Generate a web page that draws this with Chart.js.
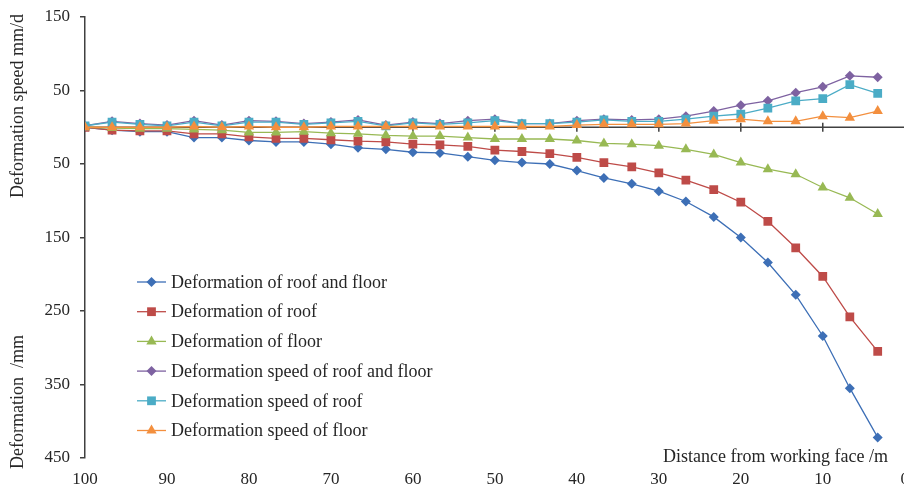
<!DOCTYPE html>
<html lang="en">
<head>
  <meta charset="UTF-8" />
  <title>Deformation vs distance from working face</title>
  <script src="https://cdn.jsdelivr.net/npm/chart.js"></script>
  <style>
    html, body { margin: 0; padding: 0; background: #fff; overflow: hidden; }
    #wrap { position: relative; width: 912px; height: 490px; }
  </style>
</head>
<body>
  <div id="wrap"><canvas id="grafico"></canvas></div>

  <script>
    // distance from working face (m)
    const distance = [100, 96.7, 93.3, 90, 86.7, 83.3, 80, 76.7, 73.3, 70, 66.7, 63.3, 60, 56.7, 53.3,
                      50, 46.7, 43.3, 40, 36.7, 33.3, 30, 26.7, 23.3, 20, 16.7, 13.3, 10, 6.7, 3.3];

    // deformation (mm), drawn below the zero line
    const defRoofFloor = [0, 4, 6, 6, 14, 14, 18, 20, 20, 23, 28, 30, 34, 35, 40,
                          45, 48, 50, 59, 69, 77, 87, 101, 122, 150, 184, 228, 284, 355, 422];
    const defRoof = [0, 4, 5, 5, 9, 9, 13, 15, 15, 17, 19, 20, 23, 24, 26,
                     31, 33, 36, 41, 48, 54, 62, 72, 85, 102, 128, 164, 203, 258, 305];
    const defFloor = [0, 1, 2, 2, 3, 4, 7, 7, 6, 8, 9, 11, 12, 12, 14,
                      16, 16, 16, 18, 22, 23, 25, 30, 37, 48, 57, 64, 82, 96, 118];

    // deformation speed (mm/d), drawn above the zero line
    const spdRoofFloor = [2, 8, 5, 3, 9, 3, 9, 8, 5, 7, 10, 3, 7, 5, 9,
                          11, 5, 5, 9, 11, 10, 11, 15, 22, 30, 36, 47, 55, 70, 68];
    const spdRoof = [2, 7, 4, 2, 7, 2, 7, 7, 4, 6, 8, 2, 6, 4, 6,
                     9, 5, 5, 7, 10, 8, 8, 11, 15, 18, 26, 36, 39, 58, 46];
    const spdFloor = [0, 0, 0, 0, 1, 0, 1, 0, 0, 1, 1, 1, 1, 1, 1,
                      1, 1, 1, 3, 4, 4, 4, 5, 9, 11, 8, 8, 15, 13, 22];

    const xTicks = [100, 90, 80, 70, 60, 50, 40, 30, 20, 10, 0];
    const yTicks = [-150, -50, 50, 150, 250, 350, 450];

    const seriesNames = ['Deformation of roof and floor', 'Deformation of roof', 'Deformation of floor',
                         'Deformation speed of roof and floor', 'Deformation speed of roof', 'Deformation speed of floor'];
    const cores = ['#3D6FB6', '#BE4B48', '#98B954', '#7E62A1', '#4BACC6', '#F38F3E'];
    const estilos = ['rectRot', 'rect', 'triangle', 'rectRot', 'rect', 'triangle'];
    const raios = { rectRot: 5, rect: 6.2, triangle: 6 };

    const serif = '"Liberation Serif", "Times New Roman", serif';
    const txt = '#262626';
    const axisColor = '#404040';

    const valores = [defRoofFloor, defRoof, defFloor,
                     spdRoofFloor.map(v => -v), spdRoof.map(v => -v), spdFloor.map(v => -v)];

    const datasets = valores.map((arr, i) => ({
      label: seriesNames[i],
      data: arr.map((v, k) => ({ x: distance[k], y: v })),
      borderColor: cores[i],
      backgroundColor: cores[i],
      borderWidth: 1.3,
      pointStyle: estilos[i],
      pointRadius: raios[estilos[i]],
      pointBorderWidth: 0,
      tension: 0
    })).reverse(); // speed series underneath, as in the original

    // x axis crossing at zero, with cross tick marks
    const zeroAxis = {
      id: 'zeroAxis',
      beforeDatasetsDraw(chart) {
        const { ctx, scales: { x, y } } = chart;
        const y0 = y.getPixelForValue(0);
        ctx.save();
        ctx.strokeStyle = axisColor;
        ctx.lineWidth = 1.5;
        ctx.beginPath();
        ctx.moveTo(x.left, y0);
        ctx.lineTo(x.right, y0);
        xTicks.forEach(t => {
          const px = x.getPixelForValue(t);
          ctx.moveTo(px, y0 - 4.5);
          ctx.lineTo(px, y0 + 4.5);
        });
        ctx.stroke();
        ctx.restore();
      }
    };

    // axis titles and legend inside the plot
    const anotacoes = {
      id: 'anotacoes',
      afterDraw(chart) {
        const { ctx } = chart;
        ctx.save();
        ctx.fillStyle = txt;
        ctx.font = '18px ' + serif;
        ctx.textBaseline = 'middle';

        ctx.save();
        ctx.translate(18, 106);
        ctx.rotate(-Math.PI / 2);
        ctx.textAlign = 'center';
        ctx.fillText('Deformation speed mm/d', 0, 0);
        ctx.restore();

        ctx.save();
        ctx.translate(18, 402);
        ctx.rotate(-Math.PI / 2);
        ctx.textAlign = 'center';
        ctx.fillText('Deformation  /mm', 0, 0);
        ctx.restore();

        ctx.textAlign = 'right';
        ctx.fillText('Distance from working face /m', 888, 457);

        // legend
        ctx.textAlign = 'left';
        seriesNames.forEach((nome, i) => {
          const yy = 282 + i * 29.7;
          ctx.strokeStyle = cores[i];
          ctx.lineWidth = 1.3;
          ctx.beginPath();
          ctx.moveTo(137, yy);
          ctx.lineTo(166, yy);
          ctx.stroke();
          ctx.fillStyle = cores[i];
          Chart.helpers.drawPoint(ctx, { pointStyle: estilos[i], radius: raios[estilos[i]], borderWidth: 0 }, 151.5, yy);
          ctx.fillStyle = txt;
          ctx.fillText(nome, 171, yy + 1);
        });
        ctx.restore();
      }
    };

    new Chart(document.getElementById('grafico'), {
      type: 'line',
      data: { datasets },
      options: {
        responsive: true,
        maintainAspectRatio: false,
        animation: false,
        layout: { padding: { left: 0, right: 4, top: 17, bottom: 0 } },
        plugins: { legend: { display: false }, tooltip: { enabled: false } },
        scales: {
          x: {
            type: 'linear',
            min: 0,
            max: 100,
            reverse: true,
            afterBuildTicks: s => { s.ticks = xTicks.map(v => ({ value: v })); },
            afterFit: s => { s.height = 32; },
            grid: { display: false },
            border: { display: false },
            ticks: { color: txt, font: { family: serif, size: 17 }, padding: 3, maxRotation: 0 }
          },
          y: {
            type: 'linear',
            min: -150,
            max: 450,
            reverse: true,
            afterBuildTicks: s => { s.ticks = yTicks.map(v => ({ value: v })); },
            afterFit: s => { s.width = 85; s.paddingTop = 0; s.paddingBottom = 0; },
            grid: { drawOnChartArea: false, drawTicks: true, tickLength: 5, color: axisColor, lineWidth: 1.5 },
            border: { display: true, color: axisColor, width: 1.5 },
            ticks: { color: txt, font: { family: serif, size: 17 }, padding: 10, callback: v => Math.abs(v) }
          }
        }
      },
      plugins: [zeroAxis, anotacoes]
    });
  </script>
</body>
</html>
